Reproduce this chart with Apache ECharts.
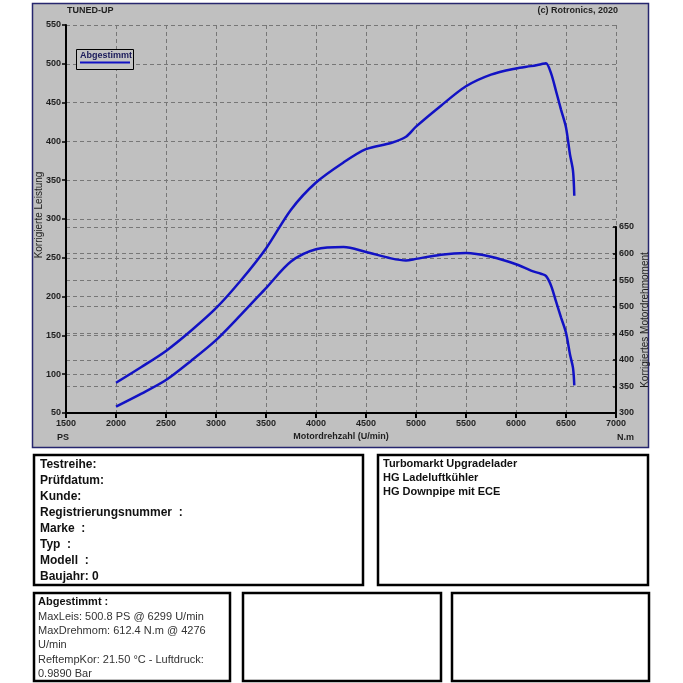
<!DOCTYPE html>
<html><head><meta charset="utf-8">
<script src="https://cdn.jsdelivr.net/npm/echarts@6/dist/echarts.min.js"></script>
<style>html,body{margin:0;padding:0;background:#fff}#c{width:683px;height:683px}</style>
</head><body><div id="c"></div>
<script>
// Engine speed (U/min)
const rpm = [2000, 2250, 2500, 2750, 3000, 3250, 3500, 3750, 4000, 4276, 4500, 4750, 4900, 5000, 5250, 5500, 5750, 6000, 6150, 6250, 6299, 6350, 6400, 6450, 6500, 6540, 6570, 6583];
// Korrigierte Leistung (PS)
const power = [89, 109, 130, 156, 185, 221, 262, 312, 347, 373, 390, 398, 406, 419, 446, 471, 486, 494, 497, 499.5, 500.8, 488, 465, 441, 418, 383, 362, 330];
// Korrigiertes Motordrehmoment (N.m)
const torque = [312, 336, 362, 398, 437, 485, 535, 585, 608, 612.4, 603, 591, 587, 590, 598, 601, 594, 580, 568, 562, 558, 540, 510, 480, 451, 410, 385, 352];

const seriesName = 'Abgestimmt';
const infoLines = ['Testreihe:', 'Prüfdatum:', 'Kunde:', 'Registrierungsnummer  :', 'Marke  :', 'Typ  :', 'Modell  :', 'Baujahr: 0'];
const noteLines = ['Turbomarkt Upgradelader', 'HG Ladeluftkühler', 'HG Downpipe mit ECE'];
const summaryTitle = 'Abgestimmt :';
const summaryLines = ['MaxLeis: 500.8 PS @ 6299 U/min', 'MaxDrehmom: 612.4 N.m @ 4276', 'U/min', 'ReftempKor: 21.50 °C - Luftdruck:', '0.9890 Bar'];

const FONT = 'Liberation Sans, Arial, sans-serif';
const lineColor = '#1212c4';
const gridLine = {show: true, lineStyle: {color: '#777', type: [4, 3], width: 1}};
const plain = v => String(v);
const lbl = {fontSize: 9, fontWeight: 'bold', color: '#1e1e1e', fontFamily: FONT};

const chart = echarts.init(document.getElementById('c'), null, {renderer: 'canvas'});

const graphics = [];
graphics.push({type: 'rect', z: -100, shape: {x: 32.5, y: 3.5, width: 616, height: 444}, style: {fill: '#c0c0c0', stroke: '#26266e', lineWidth: 1.5}});
graphics.push({type: 'text', z: 10, style: {text: 'TUNED-UP', x: 67, y: 11, fill: '#1e1e1e', font: 'bold 9px ' + FONT, textVerticalAlign: 'middle', verticalAlign: 'middle'}});
graphics.push({type: 'text', z: 10, style: {text: '(c) Rotronics, 2020', x: 618, y: 11, fill: '#1e1e1e', font: 'bold 9px ' + FONT, textAlign: 'right', align: 'right', textVerticalAlign: 'middle', verticalAlign: 'middle'}});
graphics.push({type: 'text', z: 10, style: {text: 'PS', x: 57, y: 438, fill: '#1e1e1e', font: 'bold 9px ' + FONT, textVerticalAlign: 'middle', verticalAlign: 'middle'}});
graphics.push({type: 'text', z: 10, style: {text: 'N.m', x: 617, y: 438, fill: '#1e1e1e', font: 'bold 9px ' + FONT, textVerticalAlign: 'middle', verticalAlign: 'middle'}});
graphics.push({type: 'rect', z: 10, shape: {x: 76.5, y: 49.5, width: 57, height: 20}, style: {fill: '#c4c4c4', stroke: '#000', lineWidth: 1}});
graphics.push({type: 'text', z: 11, style: {text: seriesName, x: 80, y: 56, fill: '#1a1a5a', font: 'bold 9px ' + FONT, textVerticalAlign: 'middle', verticalAlign: 'middle'}});
graphics.push({type: 'line', z: 11, shape: {x1: 80, y1: 62.5, x2: 130, y2: 62.5}, style: {stroke: lineColor, lineWidth: 2}});
const boxes = [[34, 455, 329, 130], [378, 455, 270, 130], [34, 593, 196, 88], [243, 593, 198, 88], [452, 593, 197, 88]];
boxes.forEach(b => graphics.push({type: 'rect', z: 5, shape: {x: b[0], y: b[1], width: b[2], height: b[3]}, style: {fill: '#fff', stroke: '#000', lineWidth: 2.5}}));
infoLines.forEach((t, i) => graphics.push({type: 'text', z: 6, style: {text: t, x: 40, y: 465 + i * 16, fill: '#111', font: 'bold 12px ' + FONT, textVerticalAlign: 'middle', verticalAlign: 'middle'}}));
noteLines.forEach((t, i) => graphics.push({type: 'text', z: 6, style: {text: t, x: 383, y: 464 + i * 14, fill: '#111', font: 'bold 11px ' + FONT, textVerticalAlign: 'middle', verticalAlign: 'middle'}}));
graphics.push({type: 'text', z: 6, style: {text: summaryTitle, x: 38, y: 602, fill: '#111', font: 'bold 11px ' + FONT, textVerticalAlign: 'middle', verticalAlign: 'middle'}});
summaryLines.forEach((t, i) => graphics.push({type: 'text', z: 6, style: {text: t, x: 38, y: 617 + i * 14.2, fill: '#333', font: '11px ' + FONT, textVerticalAlign: 'middle', verticalAlign: 'middle'}}));

const option = {
  backgroundColor: '#fff',
  animation: false,
  graphic: {elements: graphics},
  grid: [
    {left: 66, right: 67, top: 25, bottom: 270},
    {left: 66, right: 67, top: 227, bottom: 270}
  ],
  xAxis: [
    {type: 'value', gridIndex: 0, min: 1500, max: 7000, interval: 500,
     axisLine: {onZero: false, lineStyle: {color: '#000', width: 2}},
     axisTick: {length: 5, lineStyle: {color: '#000', width: 2}},
     axisLabel: Object.assign({margin: 6, formatter: plain}, lbl),
     splitLine: gridLine,
     name: 'Motordrehzahl (U/min)', nameLocation: 'middle', nameGap: 19, nameMoveOverlap: false,
     nameTextStyle: lbl},
    {type: 'value', gridIndex: 1, min: 1500, max: 7000, interval: 500, show: false}
  ],
  yAxis: [
    {type: 'value', gridIndex: 0, min: 50, max: 550, interval: 50, position: 'left',
     axisLine: {show: true, onZero: false, lineStyle: {color: '#000', width: 2}},
     axisTick: {show: true, length: 4, lineStyle: {color: '#000', width: 1.5}},
     axisLabel: Object.assign({margin: 5, formatter: plain}, lbl),
     splitLine: gridLine,
     name: 'Korrigierte Leistung', nameLocation: 'middle', nameRotate: 90, nameGap: 22, nameMoveOverlap: false,
     nameTextStyle: Object.assign({}, lbl, {fontWeight: 'normal', fontSize: 10, padding: [0, 0, 0, 8]})},
    {type: 'value', gridIndex: 1, min: 300, max: 650, interval: 50, position: 'right',
     axisLine: {show: true, onZero: false, lineStyle: {color: '#000', width: 2}},
     axisTick: {show: true, inside: true, length: 3, lineStyle: {color: '#000', width: 1.5}},
     axisLabel: Object.assign({margin: 3, formatter: plain}, lbl),
     splitLine: gridLine,
     name: 'Korrigiertes Motordrehmoment', nameLocation: 'middle', nameRotate: 90, nameGap: 24, nameMoveOverlap: false,
     nameTextStyle: Object.assign({}, lbl, {fontWeight: 'normal', fontSize: 10})}
  ],
  series: [
    {name: seriesName, type: 'line', xAxisIndex: 0, yAxisIndex: 0, showSymbol: false, smooth: 0.3,
     lineStyle: {color: lineColor, width: 2.5}, data: rpm.map((r, i) => [r, power[i]])},
    {name: seriesName + ' Drehmoment', type: 'line', xAxisIndex: 1, yAxisIndex: 1, showSymbol: false, smooth: 0.3,
     lineStyle: {color: lineColor, width: 2.5}, data: rpm.map((r, i) => [r, torque[i]])}
  ]
};
chart.setOption(option);
</script>
</body></html>
